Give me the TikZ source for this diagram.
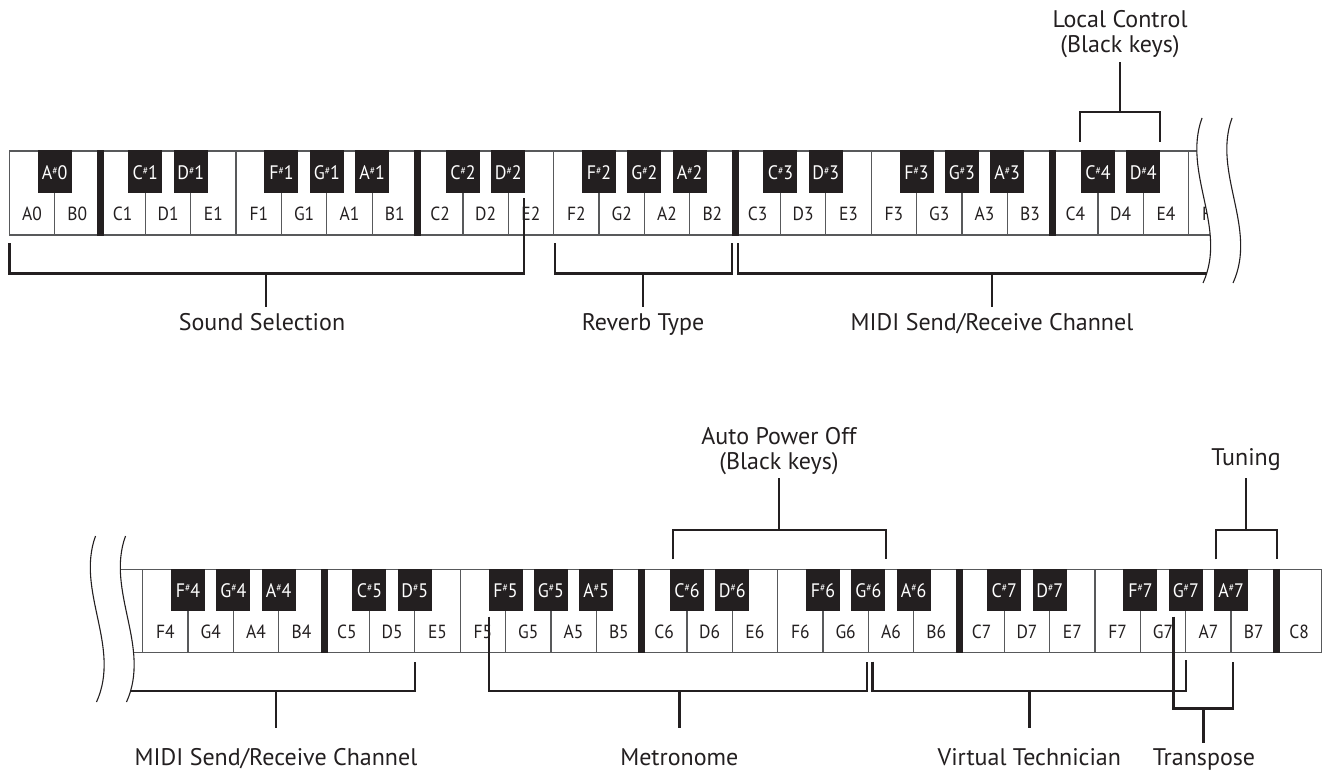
\documentclass[tikz,border=0pt]{standalone}
\usepackage{fontspec}
\setmainfont{PT Sans}
\newfontfamily\keyfont[FakeStretch=0.92]{PT Sans}
\definecolor{ink}{HTML}{231F20}
\definecolor{keygray}{HTML}{58595B}
\newcommand{\sh}{\raisebox{0.6ex}{\fontsize{10.5}{10.5}\selectfont\#}}
\tikzset{
  wkey/.style={draw=keygray, line width=1.3pt, fill=white},
  bkey/.style={fill=ink, draw=none},
  octbar/.style={fill=ink, draw=none},
  wlab/.style={text=ink, font=\keyfont\fontsize{19}{19}\selectfont, inner sep=0, anchor=base},
  blab/.style={text=white, font=\keyfont\fontsize{19.5}{19.5}\selectfont, inner sep=0, anchor=base},
  bracket/.style={draw=ink, line width=2.4pt},
  lbl/.style={text=ink, font=\fontsize{24}{24}\selectfont, inner sep=0, anchor=base},
  wave/.style={draw=ink, line width=1.1pt},
}
\begin{document}
\begin{tikzpicture}[x=1pt,y=-1pt]
\useasboundingbox (0,0) rectangle (1324,778);
\fill[white] (0,0) rectangle (1324,778);

% ---------------- top keyboard ----------------
\def\tx{9.3}\def\kw{45.36}
\foreach \n [count=\i from 0] in {A0,B0,C1,D1,E1,F1,G1,A1,B1,C2,D2,E2,F2,G2,A2,B2,C3,D3,E3,F3,G3,A3,B3,C4,D4,E4,F4}{
  \path[wkey] ({\tx+\i*\kw},151) rectangle ({\tx+(\i+1)*\kw},235);
  \node[wlab] (t\n) at ({\tx+(\i+0.5)*\kw},220) {\n};
}
\foreach \i in {2,9,16,23}{
  \path[octbar] ({\tx+\i*\kw-3.5},150.4) rectangle ({\tx+\i*\kw+3.5},235.6);
}
\foreach \l/\o/\i in {A/0/1,C/1/3,D/1/4,F/1/6,G/1/7,A/1/8,C/2/10,D/2/11,F/2/13,G/2/14,A/2/15,C/3/17,D/3/18,F/3/20,G/3/21,A/3/22,C/4/24,D/4/25}{
  \path[bkey] ({\tx+\i*\kw-17},150.4) rectangle ({\tx+\i*\kw+17},193);
  \node[blab] (t\l s\o) at ({\tx+\i*\kw},180) {\l\sh\o};
}

% ---------------- bottom keyboard ----------------
\def\bx{142.7}\def\bw{45.35}
\path[wkey] ({\bx-\bw},569.3) rectangle (\bx,652.3);
\foreach \n [count=\i from 0] in {F4,G4,A4,B4,C5,D5,E5,F5,G5,A5,B5,C6,D6,E6,F6,G6,A6,B6,C7,D7,E7,F7,G7,A7,B7,C8}{
  \path[wkey] ({\bx+\i*\bw},569.3) rectangle ({\bx+(\i+1)*\bw},652.3);
  \node[wlab] (b\n) at ({\bx+(\i+0.5)*\bw},638.5) {\n};
}
\foreach \i in {4,11,18,25}{
  \path[octbar] ({\bx+\i*\bw-3.5},568.7) rectangle ({\bx+\i*\bw+3.5},652.9);
}
\foreach \l/\o/\i in {F/4/1,G/4/2,A/4/3,C/5/5,D/5/6,F/5/8,G/5/9,A/5/10,C/6/12,D/6/13,F/6/15,G/6/16,A/6/17,C/7/19,D/7/20,F/7/22,G/7/23,A/7/24}{
  \path[bkey] ({\bx+\i*\bw-17},568.7) rectangle ({\bx+\i*\bw+17},610.7);
  \node[blab] (b\l s\o) at ({\bx+\i*\bw},597.5) {\l\sh\o};
}

% ---------------- labels ----------------
\node[lbl] (ss)  at (262,330) {Sound Selection};
\node[lbl] (rt)  at (643,330) {Reverb Type};
\node[lbl] (mt)  at (992,330) {MIDI Send/Receive Channel};
\node[lbl] (lc)  at (1120,27.5) {Local Control};
\node[lbl] (lcb) at (1120,52.5) {(Black keys)};
\node[lbl] (mb)  at (276,765) {MIDI Send/Receive Channel};
\node[lbl] (met) at (679.3,765) {Metronome};
\node[lbl] (vt)  at (1029.3,765) {Virtual Technician};
\node[lbl] (tr)  at (1204,765) {Transpose};
\node[lbl] (apo) at (779,444.5) {Auto Power Off};
\node[lbl] (apb) at (779,469.5) {(Black keys)};
\node[lbl] (tu)  at (1246,465.5) {Tuning};

% ---------------- bracket coordinates ----------------
\coordinate (ssA) at (9.3,243);   \coordinate (ssB) at (9.3,273.5);
\coordinate (ssC) at (524,273.5); \coordinate (ssD) at (524,198);
\coordinate (ssM) at (266,273.5); \coordinate (ssE) at (266,307);
\coordinate (rtA) at (555,243);   \coordinate (rtB) at (555,273.5);
\coordinate (rtC) at (732,273.5); \coordinate (rtD) at (732,243);
\coordinate (rtM) at (643,273.5); \coordinate (rtE) at (643,307);
\coordinate (mtA) at (737.8,243); \coordinate (mtB) at (737.8,273.5);
\coordinate (mtC) at (1218,273.5);
\coordinate (mtM) at (992,273.5); \coordinate (mtE) at (992,307);
\coordinate (lcA) at (1080,141.7); \coordinate (lcB) at (1080,112.3);
\coordinate (lcC) at (1160,112.3); \coordinate (lcD) at (1160,141.7);
\coordinate (lcM) at (1120,112.3); \coordinate (lcE) at (1120,62);

\coordinate (mbA) at (100,691);   \coordinate (mbB) at (415,691);
\coordinate (mbC) at (415,661.7);
\coordinate (mbM) at (276,691);   \coordinate (mbE) at (276,728);
\coordinate (meA) at (489,616.7); \coordinate (meB) at (489,691);
\coordinate (meC) at (866.7,691); \coordinate (meD) at (866.7,661.7);
\coordinate (meM) at (679.3,691); \coordinate (meE) at (679.3,728);
\coordinate (vtA) at (872.3,661.7); \coordinate (vtB) at (872.3,691);
\coordinate (vtC) at (1185.7,691);  \coordinate (vtD) at (1185.7,660);
\coordinate (vtM) at (1029.3,691);  \coordinate (vtE) at (1029.3,728);
\coordinate (trA) at (1173.3,616.7); \coordinate (trB) at (1173.3,708.3);
\coordinate (trC) at (1232.7,708.3); \coordinate (trD) at (1232.7,661.7);
\coordinate (trM) at (1203.3,708.3); \coordinate (trE) at (1203.3,743);
\coordinate (tuA) at (1216,559.3); \coordinate (tuB) at (1216,530);
\coordinate (tuC) at (1276.7,530); \coordinate (tuD) at (1276.7,559.3);
\coordinate (tuM) at (1246,530);   \coordinate (tuE) at (1246,478);
\coordinate (apA) at (672.7,559.3); \coordinate (apB) at (672.7,530);
\coordinate (apC) at (885.7,530);   \coordinate (apD) at (885.7,559.3);
\coordinate (apM) at (779,530);     \coordinate (apE) at (779,478);

% ---------------- brackets ----------------
\draw[bracket] (ssA) -- (ssB) -- (ssC) -- (ssD);  \draw[bracket] (ssM) -- (ssE);
\draw[bracket] (rtA) -- (rtB) -- (rtC) -- (rtD);  \draw[bracket] (rtM) -- (rtE);
\draw[bracket] (mtA) -- (mtB) -- (mtC);           \draw[bracket] (mtM) -- (mtE);
\draw[bracket] (lcA) -- (lcB) -- (lcC) -- (lcD);  \draw[bracket] (lcM) -- (lcE);
\draw[bracket] (mbA) -- (mbB) -- (mbC);           \draw[bracket] (mbM) -- (mbE);
\draw[bracket] (meA) -- (meB) -- (meC) -- (meD);  \draw[bracket] (meM) -- (meE);
\draw[bracket] (vtA) -- (vtB) -- (vtC) -- (vtD);  \draw[bracket] (vtM) -- (vtE);
\draw[bracket] (trA) -- (trB) -- (trC) -- (trD);  \draw[bracket] (trM) -- (trE);
\draw[bracket] (tuA) -- (tuB) -- (tuC) -- (tuD);  \draw[bracket] (tuM) -- (tuE);
\draw[bracket] (apA) -- (apB) -- (apC) -- (apD);  \draw[bracket] (apM) -- (apE);

% ---------------- cut marks ----------------
\fill[white] (1202,118) .. controls (1182,173) and (1228,228) .. (1203,283) -- (1324,283) -- (1324,118) -- cycle;
\draw[wave] (1202,118) .. controls (1182,173) and (1228,228) .. (1203,283);
\draw[wave] (1232,118) .. controls (1212,173) and (1258,228) .. (1233,283);
\fill[white] (125.5,536) .. controls (105.5,591.3) and (151.5,646.7) .. (126.5,702) -- (0,702) -- (0,536) -- cycle;
\draw[wave] (95.5,536) .. controls (75.5,591.3) and (121.5,646.7) .. (96.5,702);
\draw[wave] (125.5,536) .. controls (105.5,591.3) and (151.5,646.7) .. (126.5,702);
\end{tikzpicture}
\end{document}
